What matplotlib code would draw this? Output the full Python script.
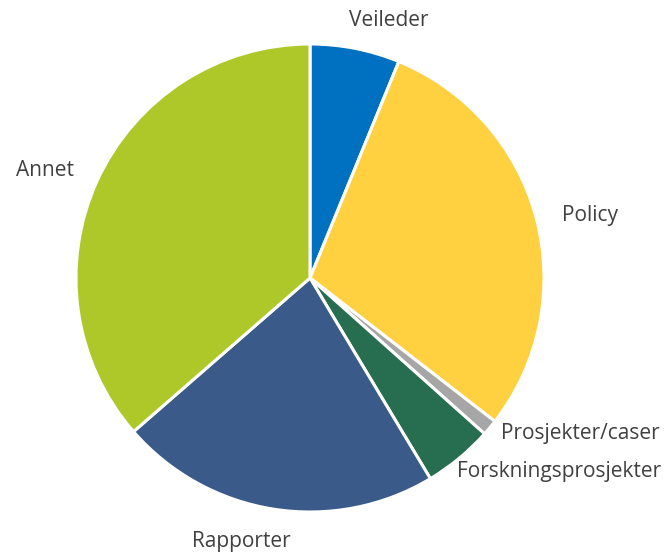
import matplotlib.pyplot as plt

# Slice data (share, %), clockwise from 12 o'clock
labels = ["Veileder", "Policy", "Prosjekter/caser", "Forskningsprosjekter", "Rapporter", "Annet"]
values = [6.2, 29.3, 1.1, 4.8, 22.2, 36.4]
colors = ["#0070C0", "#FFD040", "#A6A6A6", "#276D4F", "#3A5A8A", "#AEC82A"]

# label anchor points in pixel coordinates (y from top)
label_pos = [(389, 20), (590, 215), (580, 434), (559, 472), (241, 542), (45, 170)]

W, H = 667, 553
fig = plt.figure(figsize=(W / 100, H / 100), dpi=100)
ax = fig.add_axes([0, 0, 1, 1])

ax.pie(values, colors=colors, startangle=90, counterclock=False,
       center=(310, H - 278), radius=234, frame=True,
       wedgeprops=dict(edgecolor="white", linewidth=2.2))
ax.set_xlim(0, W)
ax.set_ylim(0, H)
ax.set_aspect("equal")
ax.axis("off")

for lab, (x, y) in zip(labels, label_pos):
    ax.text(x, H - y, lab, ha="center", va="center", fontsize=15,
            family="Open Sans", color="#404040")

fig.savefig("out.png", dpi=100)
